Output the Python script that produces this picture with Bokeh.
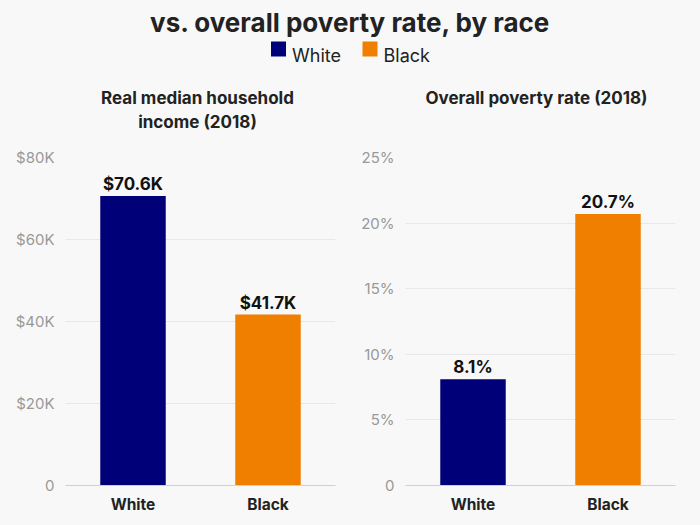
from bokeh.plotting import figure
from bokeh.layouts import column, row
from bokeh.models import Range1d, FactorRange, ColumnDataSource, FixedTicker, CustomJSTickFormatter, LabelSet
from bokeh.core.properties import value
from bokeh.embed import file_html
from bokeh.resources import INLINE

# ---- data ----
races = ["White", "Black"]
colors = ["#000078", "#F07F00"]
income_k = [70.6, 41.7]
income_labels = ["$70.6K", "$41.7K"]
poverty_pct = [8.1, 20.7]
poverty_labels = ["8.1%", "20.7%"]
income_ticks = [0, 20, 40, 60, 80]
poverty_ticks = [0, 5, 10, 15, 20, 25]
title_text = "vs. overall poverty rate, by race"
subtitle_income = ["Real median household", "income (2018)"]
subtitle_poverty = ["Overall poverty rate (2018)"]

BG = "#f8f8f8"
FONT = "Inter"
W = 700
PW = 350

# ---- header (coordinates in screen pixels, y downwards) ----
hdr_h = 140
hdr = figure(width=W, height=hdr_h, x_range=Range1d(0, W), y_range=Range1d(hdr_h, 0),
             output_backend="svg", toolbar_location=None, min_border=0)
hdr.axis.visible = False
hdr.grid.visible = False
hdr.outline_line_color = None
hdr.background_fill_color = BG
hdr.border_fill_color = BG

hdr.text(x=[350], y=[22], text=[title_text], text_align="center", text_baseline="alphabetic",
         text_font=value(FONT), text_font_size="26px", text_font_style="bold", text_color="#222222")

# legend
leg_sq = [278, 369.5]
hdr.rect(x=leg_sq, y=[48.5, 48.5], width=15, height=15, fill_color=colors, line_color=None)
hdr.text(x=[x + 13.5 for x in leg_sq], y=[55, 55], text=races, text_baseline="alphabetic",
         text_font=value(FONT), text_font_size="18px", text_color="#222222")

# subtitles
hdr.text(x=[197, 197], y=[97, 121], text=subtitle_income, text_align="center", text_baseline="alphabetic",
         text_font=value(FONT), text_font_size="17px", text_font_style="bold", text_color="#222222")
hdr.text(x=[536], y=[97], text=subtitle_poverty, text_align="center", text_baseline="alphabetic",
         text_font=value(FONT), text_font_size="17px", text_font_style="bold", text_color="#222222")


def panel(vals, labels, ticks, fmt, left):
    src = ColumnDataSource(dict(race=races, val=vals, color=colors, label=labels))
    p = figure(width=PW, height=385, x_range=FactorRange(*races, range_padding=0),
               y_range=Range1d(0, ticks[-1]), output_backend="svg", toolbar_location=None,
               min_border_left=left, min_border_right=PW - left - 270, min_border_top=17,
               min_border_bottom=40)
    p.vbar(x="race", top="val", width=0.485, fill_color="color", line_color=None, source=src)
    p.add_layout(LabelSet(x="race", y="val", text="label", source=src, text_align="center",
                          text_baseline="alphabetic", y_offset=6, text_font=value(FONT),
                          text_font_size="17px", text_font_style="bold", text_color="#111111"))
    p.background_fill_color = BG
    p.border_fill_color = BG
    p.outline_line_color = None
    p.xgrid.visible = False
    p.ygrid.grid_line_color = "#e8e8e8"
    p.ygrid.grid_line_width = 1
    p.yaxis.ticker = FixedTicker(ticks=ticks)
    p.yaxis.formatter = CustomJSTickFormatter(code=fmt)
    p.yaxis.axis_line_color = None
    p.yaxis.major_tick_line_color = None
    p.yaxis.minor_tick_line_color = None
    p.yaxis.major_label_text_font = FONT
    p.yaxis.major_label_text_font_size = "15px"
    p.yaxis.major_label_text_color = "#999999"
    p.yaxis.major_label_standoff = 5
    p.xaxis.axis_line_color = "#d0d0d0"
    p.xaxis.major_tick_line_color = None
    p.xaxis.minor_tick_line_color = None
    p.xaxis.major_label_text_font = FONT
    p.xaxis.major_label_text_font_size = "15.5px"
    p.xaxis.major_label_text_font_style = "bold"
    p.xaxis.major_label_text_color = "#222222"
    p.xaxis.major_label_standoff = 3
    return p


p1 = panel(income_k, income_labels, income_ticks,
           "return tick == 0 ? '0' : '$' + tick + 'K';", 65)
p2 = panel(poverty_pct, poverty_labels, poverty_ticks,
           "return tick == 0 ? '0' : tick + '%';", 55)

layout = column(hdr, row(p1, p2, spacing=0), spacing=0)
html = file_html(layout, INLINE)
html = html.replace("</head>", "<style>html, body { background: %s; }</style></head>" % BG, 1)
open("out.html", "w").write(html)
